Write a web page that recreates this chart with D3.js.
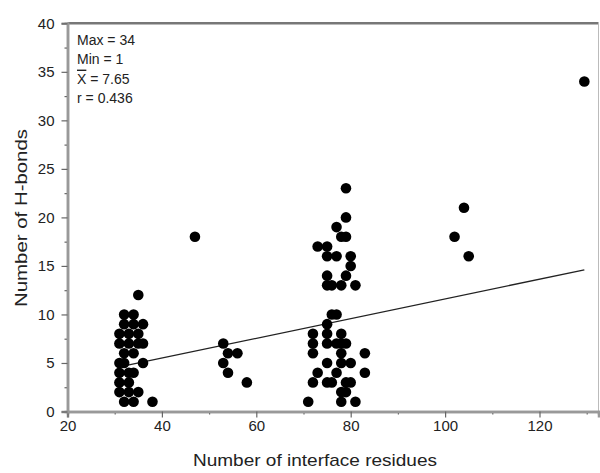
<!DOCTYPE html>
<html>
<head>
<meta charset="utf-8">
<script src="https://cdn.jsdelivr.net/npm/d3@7/dist/d3.min.js"></script>
<style>
  body { margin: 0; background: #fff; }
  text { font-family: "Liberation Sans", Arial, sans-serif; fill: #222; }
</style>
</head>
<body>
<script>
// dati: residui di interfaccia (x) e legami H (y)
var residues = [
  35, 32, 34, 32, 34, 36, 31, 33, 35, 31, 33, 35, 36, 32, 34, 31, 32, 36,
  31, 33, 34, 31, 33, 31, 33, 35, 32, 34, 38,
  47, 53, 54, 56, 53, 54, 58,
  79, 79, 77, 78, 79, 73, 75, 75, 77, 80, 80, 75, 79, 75, 76, 78, 81,
  76, 77, 75, 72, 75, 78, 72, 75, 77, 78, 79, 72, 78, 83, 75, 78, 80,
  73, 77, 83, 72, 75, 76, 79, 80, 78, 79, 71, 78, 81,
  102, 104, 105, 129.5
];
var hbonds = [
  12, 10, 10, 9, 9, 9, 8, 8, 8, 7, 7, 7, 7, 6, 6, 5, 5, 5,
  4, 4, 4, 3, 3, 2, 2, 2, 1, 1, 1,
  18, 7, 6, 6, 5, 4, 3,
  23, 20, 19, 18, 18, 17, 17, 16, 16, 16, 15, 14, 14, 13, 13, 13, 13,
  10, 10, 9, 8, 8, 8, 7, 7, 7, 7, 7, 6, 6, 6, 5, 5, 5,
  4, 4, 4, 3, 3, 3, 3, 3, 2, 2, 1, 1, 1,
  18, 21, 16, 34
];

// statistiche nel riquadro
var statNames = ["Max", "Min", "X", "r"];
var statValues = ["34", "1", "7.65", "0.436"];

// retta di regressione y = a + b*x
var fitA = 1.44;
var fitB = 0.1016;

// tacche
var xMajor = [20, 40, 60, 80, 100, 120];
var xMinor = [30, 50, 70, 90, 110, 130];
var yMajor = [0, 5, 10, 15, 20, 25, 30, 35, 40];
var yMinor = [2.5, 7.5, 12.5, 17.5, 22.5, 27.5, 32.5, 37.5];

var W = 600, H = 473;
var margin = {top: 23.3, right: 1.5, bottom: 61.5, left: 67.5};

var svg = d3.select("body").append("svg")
    .attr("width", W)
    .attr("height", H);

var x = d3.scaleLinear().domain([20, 132.5]).range([margin.left, W - margin.right]);
var y = d3.scaleLinear().domain([0, 40]).range([H - margin.bottom, margin.top]);

// cornice superiore e destra
svg.append("line")
    .attr("x1", x(20)).attr("x2", x(132.5))
    .attr("y1", y(40)).attr("y2", y(40))
    .attr("stroke", "#777").attr("stroke-width", 2.5);
svg.append("line")
    .attr("x1", x(132.5)).attr("x2", x(132.5))
    .attr("y1", y(40)).attr("y2", y(0))
    .attr("stroke", "#bbb").attr("stroke-width", 1);

// retta di regressione
var xr = d3.extent(residues);
svg.append("line")
    .attr("x1", x(xr[0])).attr("y1", y(fitA + fitB * xr[0]))
    .attr("x2", x(xr[1])).attr("y2", y(fitA + fitB * xr[1]))
    .attr("stroke", "#222").attr("stroke-width", 1.3);

// punti
svg.append("g").selectAll("circle")
    .data(residues)
  .enter().append("circle")
    .attr("cx", function(d) { return x(d); })
    .attr("cy", function(d, i) { return y(hbonds[i]); })
    .attr("r", 5.3)
    .attr("fill", "#000");

// assi
function styleAxis(g) {
  g.select(".domain").attr("stroke", "#999").attr("stroke-width", 2.5);
  g.selectAll(".tick line").attr("stroke", "#666").attr("stroke-width", 1.2);
  g.selectAll(".tick text").style("font-size", "15px").attr("fill", "#333");
}

svg.append("g")
    .attr("transform", "translate(0," + y(0) + ")")
    .call(d3.axisBottom(x).tickValues(xMinor).tickSize(3).tickFormat(""))
    .call(styleAxis);
svg.append("g")
    .attr("transform", "translate(0," + y(0) + ")")
    .call(d3.axisBottom(x).tickValues(xMajor).tickSize(6).tickPadding(3).tickFormat(d3.format("d")))
    .call(styleAxis);

svg.append("g")
    .attr("transform", "translate(" + x(20) + ",0)")
    .call(d3.axisLeft(y).tickValues(yMinor).tickSize(3).tickFormat(""))
    .call(styleAxis);
svg.append("g")
    .attr("transform", "translate(" + x(20) + ",0)")
    .call(d3.axisLeft(y).tickValues(yMajor).tickSize(6).tickPadding(7).tickFormat(d3.format("d")))
    .call(styleAxis);

// titoli assi
svg.append("text")
    .attr("x", 315).attr("y", 466)
    .attr("text-anchor", "middle")
    .attr("textLength", 244)
    .attr("lengthAdjust", "spacingAndGlyphs")
    .style("font-size", "17px")
    .text("Number of interface residues");
svg.append("text")
    .attr("transform", "translate(27,218) rotate(-90)")
    .attr("text-anchor", "middle")
    .attr("textLength", 178)
    .attr("lengthAdjust", "spacingAndGlyphs")
    .style("font-size", "17px")
    .text("Number of H-bonds");

// riquadro statistiche
var stats = svg.append("g").attr("transform", "translate(77,45)");
statNames.forEach(function(n, i) {
  var t = stats.append("text")
      .attr("y", i * 19.3)
      .style("font-size", "14px");
  t.append("tspan")
      .style("text-decoration", i == 2 ? "overline" : "none")
      .text(n);
  t.append("tspan").text(" = " + statValues[i]);
});
</script>
</body>
</html>
